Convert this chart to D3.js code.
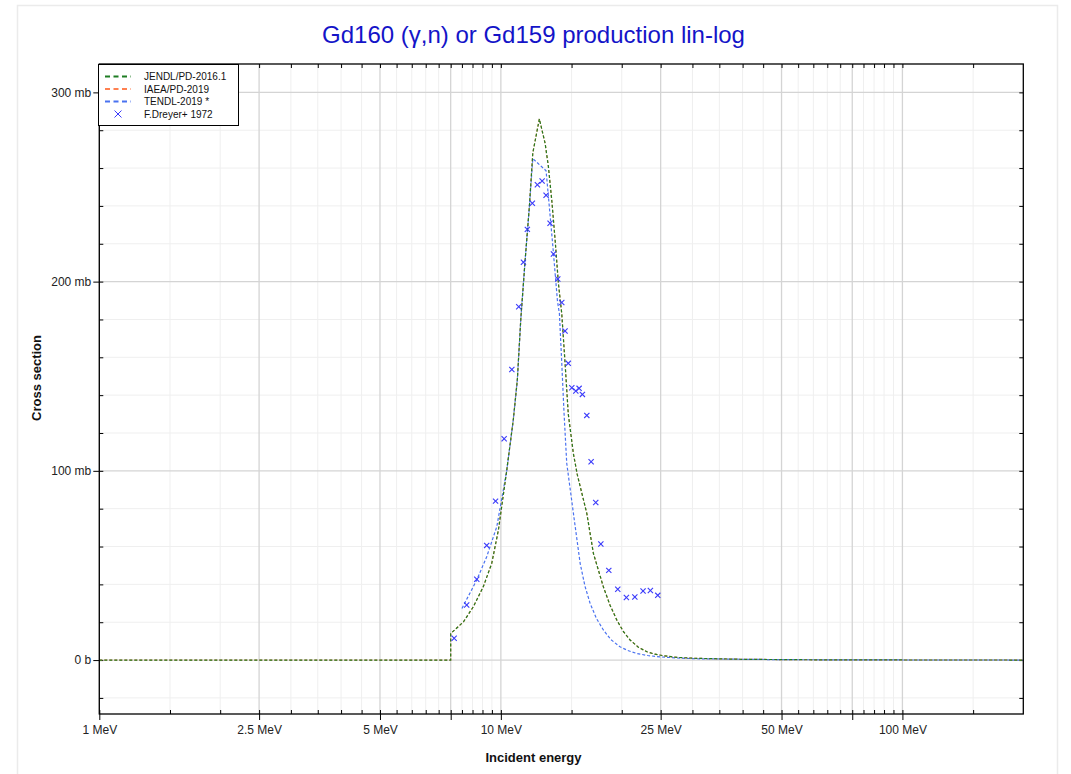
<!DOCTYPE html>
<html><head><meta charset="utf-8">
<script src="https://cdn.jsdelivr.net/npm/d3@7"></script>
<style>
html,body{margin:0;padding:0;background:#fff;}
svg{display:block;font-family:'Liberation Sans',Arial,sans-serif;}
</style></head>
<body>
<svg id="chart" width="1071" height="774"></svg>
<script>
// ---------- DATA ----------
const titleText = "Gd160 (γ,n) or Gd159 production lin-log";
const xLabel = "Incident energy";
const yLabel = "Cross section";

// JENDL/PD-2016.1 (MeV, mb)
const jendlE = [1, 7.5, 7.5, 8.07, 8.54, 9.04, 9.49, 9.86, 10.34, 10.74, 10.99, 11.21, 11.49, 11.78, 12.01, 12.47, 12.89, 13.13, 13.39, 13.65, 13.91, 14.18, 14.45, 14.72, 15.16, 15.5, 16.37, 17.0, 18.0, 18.7, 19.45, 20.2, 20.98, 22.0, 23.1, 24.2, 25.4, 27.5, 30.8, 40, 60, 100, 200];
const jendlS = [0, 0, 14, 20.2, 28.2, 38.7, 51.1, 68.7, 100, 127, 148, 180, 211, 240, 268, 286, 273, 261, 243, 222, 199, 183, 157, 130, 109, 98, 77.5, 56.4, 38.7, 29, 21.1, 15, 10.6, 6.8, 4.4, 3.1, 2.3, 1.4, 0.9, 0.4, 0.15, 0.05, 0.02];

// IAEA/PD-2019 (identical to JENDL in the picture)
const iaeaE = [1, 7.5, 7.5, 8.07, 8.54, 9.04, 9.49, 9.86, 10.34, 10.74, 10.99, 11.21, 11.49, 11.78, 12.01, 12.47, 12.89, 13.13, 13.39, 13.65, 13.91, 14.18, 14.45, 14.72, 15.16, 15.5, 16.37, 17.0, 18.0, 18.7, 19.45, 20.2, 20.98, 22.0, 23.1, 24.2, 25.4, 27.5, 30.8, 40, 60, 100, 200];
const iaeaS = [0, 0, 14, 20.2, 28.2, 38.7, 51.1, 68.7, 100, 127, 148, 180, 211, 240, 268, 286, 273, 261, 243, 222, 199, 183, 157, 130, 109, 98, 77.5, 56.4, 38.7, 29, 21.1, 15, 10.6, 6.8, 4.4, 3.1, 2.3, 1.4, 0.9, 0.4, 0.15, 0.05, 0.02];

// TENDL-2019
const tendlE = [8.0, 8.71, 9.22, 9.77, 10.34, 10.74, 10.99, 11.21, 11.49, 11.78, 12.01, 12.96, 13.16, 13.52, 13.83, 13.99, 14.18, 14.37, 14.59, 15.16, 15.76, 16.2, 16.68, 17.3, 18.0, 18.8, 19.8, 20.8, 21.8, 23.2, 24.9, 27.5, 30.8, 50, 100, 200];
const tendlS = [27.3, 42.3, 54.6, 70.5, 100, 127, 148, 180, 211, 240, 265, 258.6, 243, 215, 190, 183, 157, 130, 104, 77.5, 51, 39, 30, 22, 15.9, 10.8, 7.0, 4.9, 3.5, 2.4, 1.7, 1.1, 0.7, 0.2, 0.05, 0.02];

// F.Dreyer+ 1972 experimental points
const dreyerE = [7.65, 8.22, 8.71, 9.22, 9.7, 10.19, 10.65, 11.08, 11.38, 11.64, 11.98, 12.33, 12.67, 12.96, 13.26, 13.52, 13.86, 14.18, 14.45, 14.72, 15.02, 15.37, 15.66, 15.96, 16.37, 16.78, 17.23, 17.74, 18.57, 19.55, 20.54, 21.56, 22.6, 23.57, 24.59];
const dreyerS = [11.5, 29.1, 42.7, 60.6, 84, 117, 153.6, 186.7, 210.2, 227.6, 241.4, 251.2, 253.2, 245.6, 230.8, 214.6, 201.4, 189, 173.9, 156.8, 143.9, 142.2, 143.6, 140.4, 129.3, 104.8, 83.3, 61.3, 47.4, 37.4, 33.1, 33.3, 36.5, 36.8, 34.2];

// axis ticks
const xMajorTicks = [1, 2.5, 5, 7.5, 10, 25, 50, 75, 100];
const xMinorTicks = [1.5, 2, 3, 3.5, 4, 4.5, 5.5, 6, 6.5, 7, 8, 8.5, 9, 9.5, 15, 20, 30, 35, 40, 45, 55, 60, 65, 70, 80, 85, 90, 95, 150];
const xLabelTicks = [1, 2.5, 5, 10, 25, 50, 100];
const xLabelTexts = ["1 MeV", "2.5 MeV", "5 MeV", "10 MeV", "25 MeV", "50 MeV", "100 MeV"];
const yMajorTicks = [0, 100, 200, 300];
const yTickTexts = ["0 b", "100 mb", "200 mb", "300 mb"];
const yMinorTicks = [-20, 20, 40, 60, 80, 120, 140, 160, 180, 220, 240, 260, 280];

const legendNames = ["JENDL/PD-2016.1", "IAEA/PD-2019", "TENDL-2019 *", "F.Dreyer+ 1972"];
const colJendl = "#1e7d23", colIaea = "#ff8050", colTendl = "#4a72f0", colDreyer = "#3a3afa";

// ---------- LAYOUT ----------
const svg = d3.select("#chart");
const L = 99.3, R = 1023.3, T = 64, B = 714;
const x = d3.scaleLog().domain([1, 200]).range([L, R]);
const y = d3.scaleLinear().domain([-28.5, 315]).range([B, T]);

// outer frame
svg.append("rect").attr("x", 17.5).attr("y", 5.5).attr("width", 1040).attr("height", 800)
  .attr("fill", "none").attr("stroke", "#ebebeb").attr("stroke-width", 1.5);

// title
svg.append("text").attr("x", 533.5).attr("y", 43).attr("text-anchor", "middle")
  .attr("font-size", 24).attr("fill", "#1414c8").text(titleText);

// grid
const grid = svg.append("g");
grid.selectAll(".gxm").data(xMinorTicks).join("line")
  .attr("x1", d => x(d)).attr("x2", d => x(d)).attr("y1", T).attr("y2", B)
  .attr("stroke", "#efefef").attr("stroke-width", 1);
grid.selectAll(".gym").data(yMinorTicks).join("line")
  .attr("x1", L).attr("x2", R).attr("y1", d => y(d)).attr("y2", d => y(d))
  .attr("stroke", "#efefef").attr("stroke-width", 1);
grid.selectAll(".gxM").data(xMajorTicks).join("line")
  .attr("x1", d => x(d)).attr("x2", d => x(d)).attr("y1", T).attr("y2", B)
  .attr("stroke", "#d4d4d4").attr("stroke-width", 1.3);
grid.selectAll(".gyM").data(yMajorTicks).join("line")
  .attr("x1", L).attr("x2", R).attr("y1", d => y(d)).attr("y2", d => y(d))
  .attr("stroke", "#d4d4d4").attr("stroke-width", 1.3);

// axes via d3 axis generators
const fmtX = d => xLabelTexts[xLabelTicks.indexOf(d)] ?? "";
const fmtY = d => yTickTexts[yMajorTicks.indexOf(d)] ?? "";
function styleAxis(g) {
  g.select(".domain").remove();
  g.selectAll("text").attr("font-size", 12).attr("fill", "#222")
    .attr("font-family", "'Liberation Sans',Arial,sans-serif");
  g.selectAll("line").attr("stroke", "#000").attr("stroke-width", 1);
}
svg.append("g").attr("transform", `translate(0,${B})`)
  .call(d3.axisBottom(x).tickValues(xMajorTicks).tickFormat(fmtX).tickSizeInner(6).tickSizeOuter(0).tickPadding(5))
  .call(styleAxis);
svg.append("g").attr("transform", `translate(0,${B})`)
  .call(d3.axisBottom(x).tickValues(xMajorTicks.concat(xMinorTicks)).tickFormat("").tickSizeInner(-4).tickSizeOuter(0))
  .call(styleAxis);
svg.append("g").attr("transform", `translate(0,${T})`)
  .call(d3.axisTop(x).tickValues(xMajorTicks.concat(xMinorTicks)).tickFormat("").tickSizeInner(-4).tickSizeOuter(0))
  .call(styleAxis);
svg.append("g").attr("transform", `translate(${L},0)`)
  .call(d3.axisLeft(y).tickValues(yMajorTicks).tickFormat(fmtY).tickSizeInner(6).tickSizeOuter(0).tickPadding(2))
  .call(styleAxis);
svg.append("g").attr("transform", `translate(${L},0)`)
  .call(d3.axisLeft(y).tickValues(yMajorTicks.concat(yMinorTicks)).tickFormat("").tickSizeInner(-4).tickSizeOuter(0))
  .call(styleAxis);
svg.append("g").attr("transform", `translate(${R},0)`)
  .call(d3.axisRight(y).tickValues(yMajorTicks.concat(yMinorTicks)).tickFormat("").tickSizeInner(-4).tickSizeOuter(0))
  .call(styleAxis);

// clip
svg.append("clipPath").attr("id", "clip").append("rect")
  .attr("x", L).attr("y", T).attr("width", R - L).attr("height", B - T);
const plot = svg.append("g").attr("clip-path", "url(#clip)");

const line = d3.line().x(d => x(d[0])).y(d => y(d[1]));
function drawSeries(E, S, color) {
  plot.append("path").datum(E.map((e, i) => [e, S[i]]))
    .attr("d", line).attr("fill", "none").attr("stroke", color)
    .attr("stroke-width", 1.2).attr("stroke-dasharray", "3,2");
}
drawSeries(tendlE, tendlS, colTendl);
drawSeries(iaeaE, iaeaS, colIaea);
drawSeries(jendlE, jendlS, colJendl);

// markers
const ms = 2.6;
const pts = plot.selectAll(".pt").data(dreyerE.map((e, i) => [e, dreyerS[i]])).join("g")
  .attr("transform", d => `translate(${x(d[0])},${y(d[1])})`);
pts.append("line").attr("x1", -ms).attr("y1", -ms).attr("x2", ms).attr("y2", ms)
  .attr("stroke", colDreyer).attr("stroke-width", 1.1);
pts.append("line").attr("x1", -ms).attr("y1", ms).attr("x2", ms).attr("y2", -ms)
  .attr("stroke", colDreyer).attr("stroke-width", 1.1);

// plot frame
svg.append("rect").attr("x", L).attr("y", T).attr("width", R - L).attr("height", B - T)
  .attr("fill", "none").attr("stroke", "#000").attr("stroke-width", 1.3);

// axis titles
svg.append("text").attr("x", 533.5).attr("y", 762).attr("text-anchor", "middle")
  .attr("font-size", 13).attr("font-weight", "bold").attr("fill", "#111").text(xLabel);
svg.append("text").attr("transform", "translate(41,378) rotate(-90)").attr("text-anchor", "middle")
  .attr("font-size", 13).attr("font-weight", "bold").attr("fill", "#111").text(yLabel);

// legend
const lg = svg.append("g");
lg.append("rect").attr("x", 98.5).attr("y", 64.5).attr("width", 140).attr("height", 61)
  .attr("fill", "#fff").attr("stroke", "#000").attr("stroke-width", 1);
const rowY = [76.5, 89, 101.5, 114];
const lineCols = [colJendl, colIaea, colTendl];
lineCols.forEach((c, i) => {
  lg.append("line").attr("x1", 105).attr("x2", 131).attr("y1", rowY[i]).attr("y2", rowY[i])
    .attr("stroke", c).attr("stroke-width", 2).attr("stroke-dasharray", "5,3.5");
});
const lm = 3.5, lmx = 118, lmy = rowY[3];
lg.append("line").attr("x1", lmx - lm).attr("y1", lmy - lm).attr("x2", lmx + lm).attr("y2", lmy + lm).attr("stroke", colDreyer).attr("stroke-width", 1);
lg.append("line").attr("x1", lmx - lm).attr("y1", lmy + lm).attr("x2", lmx + lm).attr("y2", lmy - lm).attr("stroke", colDreyer).attr("stroke-width", 1);
legendNames.forEach((n, i) => {
  lg.append("text").attr("x", 144).attr("y", rowY[i] + 3.5).attr("font-size", 10).attr("fill", "#111").text(n);
});
</script>
</body></html>
